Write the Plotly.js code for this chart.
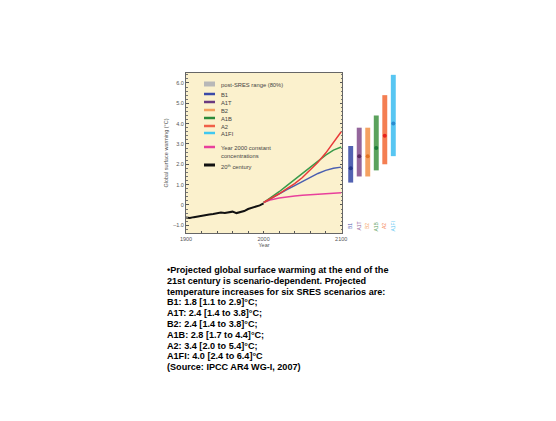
<!DOCTYPE html>
<html>
<head>
<meta charset="utf-8">
<script src="https://cdn.plot.ly/plotly-3.0.1.min.js"></script>
<style>html,body{margin:0;padding:0;background:#fff}#chart{width:556px;height:421px}</style>
</head>
<body>
<div id="chart"></div>
<script>
// ---- data ----
const years20 = [1900,1905,1910,1915,1920,1925,1930,1935,1940,1945,1950,1955,1960,1965,1970,1975,1980,1985,1990,1995,2000];
const temps20 = [-0.62,-0.64,-0.6,-0.56,-0.53,-0.5,-0.47,-0.44,-0.4,-0.37,-0.39,-0.37,-0.33,-0.4,-0.34,-0.3,-0.2,-0.15,-0.07,-0.02,0.08];
const scenYears = [2000,2010,2020,2030,2040,2050,2060,2070,2080,2090,2100];
const a2Line  = [0.12,0.33,0.55,0.8,1.05,1.35,1.7,2.1,2.55,3.05,3.6];
const a1bLine = [0.12,0.38,0.65,0.95,1.25,1.55,1.85,2.15,2.45,2.7,2.85];
const b1Line  = [0.12,0.34,0.55,0.75,0.95,1.15,1.35,1.55,1.7,1.8,1.86];
const constLine = [0.12,0.26,0.34,0.4,0.44,0.48,0.51,0.54,0.56,0.58,0.6];
const scenarios = ['B1','A1T','B2','A1B','A2','A1FI'];
const bestEst = [1.8,2.4,2.4,2.8,3.4,4.0];
const lowEst  = [1.1,1.4,1.4,1.7,2.0,2.4];
const highEst = [2.9,3.8,3.8,4.4,5.4,6.4];
const yTickVals = [-1,0,1,2,3,4,5,6];
const yTickText = ['\u20131.0','0','1.0','2.0','3.0','4.0','5.0','6.0'];
const xTickVals = [1900,2000,2100];
const xTickText = ['1900','2000','2100'];
const legendLabels = ['post-SRES range (80%)','B1','A1T','B2','A1B','A2','A1FI','Year 2000 constant<br>concentrations','20<sup>th</sup> century'];
const slideLines = [
 '\u2022Projected global surface warming at the end of the',
 '21st century is scenario-dependent. Projected',
 'temperature increases for six SRES scenarios are:',
 'B1: 1.8 [1.1 to 2.9]\u00b0C;',
 'A1T: 2.4 [1.4 to 3.8]\u00b0C;',
 'B2: 2.4 [1.4 to 3.8]\u00b0C;',
 'A1B: 2.8 [1.7 to 4.4]\u00b0C;',
 'A2: 3.4 [2.0 to 5.4]\u00b0C;',
 'A1FI: 4.0 [2.4 to 6.4]\u00b0C',
 '(Source: IPCC AR4 WG-I, 2007)'
];

// ---- styles ----
const barColors = ['#5262b2','#94669c','#f4a262','#5ba25c','#f47e52','#58c6f2'];
const dotColors = ['#26398c','#5a2a62','#e27422','#1b7a38','#e8221c','#2a8cd0'];
const legendColors = ['#b8b8b8','#3a4aa8','#6a3a80','#f2a060','#2a8a3a','#f06048','#40c8f0','#e8409c','#111111'];
const W = 556, H = 421;
const px = x => x / W, py = y => 1 - y / H;

const traces = [
  {x: years20, y: temps20, mode:'lines', line:{color:'#111', width:2}, xaxis:'x', yaxis:'y'},
  {x: scenYears, y: constLine, mode:'lines', line:{color:'#e8409c', width:1.5}, xaxis:'x', yaxis:'y'},
  {x: scenYears, y: b1Line, mode:'lines', line:{color:'#4a5fb0', width:1.5}, xaxis:'x', yaxis:'y'},
  {x: scenYears, y: a1bLine, mode:'lines', line:{color:'#3a9a4a', width:1.5}, xaxis:'x', yaxis:'y'},
  {x: scenYears, y: a2Line, mode:'lines', line:{color:'#e83a3a', width:1.5}, xaxis:'x', yaxis:'y'},
  {type:'bar', x: scenarios, base: lowEst, y: highEst.map((h,i)=>h-lowEst[i]), width:0.58,
   marker:{color:barColors, line:{width:0}}, xaxis:'x2', yaxis:'y2'},
  {x: scenarios, y: bestEst, mode:'markers', marker:{color:dotColors, size:4}, xaxis:'x2', yaxis:'y2'}
];

const tickFont = {family:'Liberation Sans, Arial', size:5.5, color:'#555'};
const yRange = [-1.38, 6.49];
const layout = {
  width:W, height:H, margin:{l:0,r:0,t:0,b:0}, showlegend:false,
  paper_bgcolor:'#fff', plot_bgcolor:'rgba(0,0,0,0)',
  xaxis:{domain:[px(186),px(342)], range:[1900,2101], tickvals:xTickVals, ticktext:xTickText,
    ticks:'inside', ticklen:2.5, tickcolor:'#555', showline:true, linecolor:'#666', linewidth:1, mirror:true,
    minor:{tickvals:[1920,1940,1960,1980,2020,2040,2060,2080], ticks:'inside', ticklen:2.5, tickcolor:'#555'},
    showgrid:false, zeroline:false, tickfont:tickFont,
    title:{text:'Year', font:tickFont, standoff:2}},
  yaxis:{domain:[py(233),py(73)], range:yRange, tickvals:yTickVals, ticktext:yTickText,
    ticks:'inside', ticklen:2.5, tickcolor:'#555', showline:true, linecolor:'#666', linewidth:1, mirror:'ticks',
    minor:{dtick:0.2, ticks:'inside', ticklen:1.5, tickcolor:'#777'},
    showgrid:false, zeroline:false, tickfont:tickFont,
    title:{text:'Global surface warming (\u00b0C)', font:tickFont, standoff:4}},
  xaxis2:{domain:[px(345),px(399)], anchor:'y2', visible:false, type:'category'},
  yaxis2:{domain:[py(233),py(73)], anchor:'x2', range:yRange, visible:false},
  shapes:[
    {type:'rect', xref:'x domain', yref:'y domain', x0:0, x1:1, y0:0, y1:1, fillcolor:'#fbf1cd', line:{width:0}, layer:'below'}
  ],
  annotations:[]
};

// legend (drawn manually, compact like the original)
const rowY = [84,94,102,110,118,126,133,147,165];
legendLabels.forEach((lab,i)=>{
  const y = rowY[i];
  if (i === 0) {
    layout.shapes.push({type:'rect', xref:'paper', yref:'paper', x0:px(204), x1:px(215), y0:py(y+2.5), y1:py(y-2.5),
      fillcolor:legendColors[i], line:{width:0}});
  } else {
    layout.shapes.push({type:'line', xref:'paper', yref:'paper', x0:px(204), x1:px(215), y0:py(y), y1:py(y),
      line:{color:legendColors[i], width: i===8 ? 3 : 2.5}});
  }
  layout.annotations.push({xref:'paper', yref:'paper', x:px(219), y:py(y - 4.3), xanchor:'left', yanchor:'top',
    text:lab, showarrow:false, align:'left', font:{family:'Liberation Sans, Arial', size:5.8, color:'#444'}});
});

// scenario labels under bars
scenarios.forEach((s,i)=>{
  layout.annotations.push({xref:'x2', yref:'y2', x:s, y:-1.05, text:s, textangle:-90, showarrow:false,
    xanchor:'center', yanchor:'middle', font:{family:'Liberation Sans, Arial', size:5, color:barColors[i]}});
});

// slide text, one line at a time
slideLines.forEach((ln,i)=>{
  layout.annotations.push({xref:'paper', yref:'paper', x:px(165), y:py(270 + 10.8*i), xanchor:'left', yanchor:'middle',
    align:'left', showarrow:false, text:'<b>' + ln + '</b>',
    font:{family:'Liberation Sans, Arial', size:9.1, color:'#000'}});
});

Plotly.newPlot('chart', traces, layout, {staticPlot:true, displayModeBar:false});
</script>
</body>
</html>
